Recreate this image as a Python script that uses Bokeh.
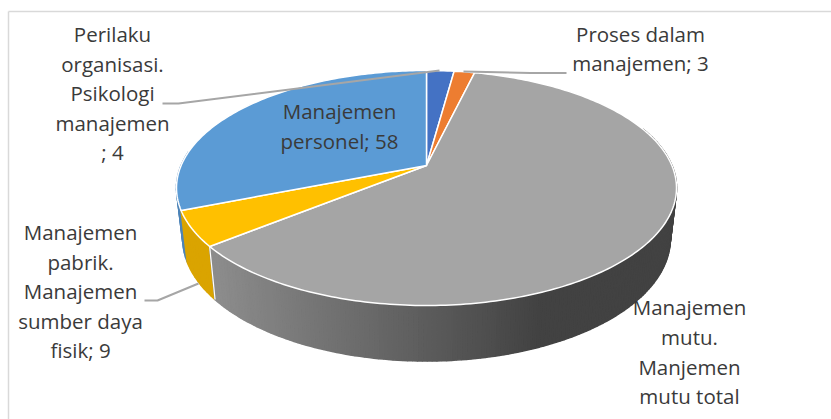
import math
from bokeh.plotting import figure
from bokeh.models import Range1d
from bokeh.core.properties import value
from bokeh.embed import file_html
from bokeh.resources import INLINE

# ---- data ----
categories = ["Perilaku organisasi. Psikologi manajemen", "Proses dalam manajemen",
              "Manajemen mutu. Manjemen mutu total (TQM)",
              "Manajemen pabrik. Manajemen sumber daya fisik", "Manajemen personel"]
values = [4, 3, 113, 9, 58]
top_colors = ["#4472C4", "#ED7D31", "#A5A5A5", "#FFC000", "#5B9BD5"]
label_lines = [
    ["Perilaku", "organisasi.", "Psikologi", "manajemen", "; 4"],
    ["Proses dalam", "manajemen; 3"],
    ["Manajemen", "mutu.", "Manjemen", "mutu total"],
    ["Manajemen", "pabrik.", "Manajemen", "sumber daya", "fisik; 9"],
    ["Manajemen", "personel; 58"],
]
label_x = [112, 640, 689, 80, 339]
label_y = [[33.5, 63, 92.5, 122, 151], [33.5, 62.5], [306.5, 336.5, 366, 395.5],
           [231.5, 261, 290.5, 320, 349.5], [110.5, 140.5]]
cut_line = "(TQM); 113"
leaders = [
    ([162, 178, 439], [103, 103, 70]),
    ([566, 530, 463], [72.5, 72.5, 71]),
    ([144, 157, 198], [300, 300, 283]),
]

# ---- layout of the tilted disc, in page pixels ----
W, H = 831, 419
CX, CY = 426, 165
RX = 250
UP, DOWN = 95, 140
K = (DOWN - UP) / (DOWN + UP)
A = RX * math.sqrt(1 - K * K)
B = UP * (1 + K)
LOW_XSCALE = 0.975
LOW_B = 117.8
CY2 = 214.8


def top_rim(theta):
    u, v = math.sin(theta), math.cos(theta)
    d = 1 + K * v
    return CX + A * u / d, CY - B * v / d


def low_rim(theta):
    u, v = math.sin(theta), math.cos(theta)
    d = 1 + K * v
    return CX + LOW_XSCALE * A * u / d, CY2 - LOW_B * v / d


total = sum(values)
edges = [0.0]
for val in values:
    edges.append(edges[-1] + val / total * 2 * math.pi)


def gray_wall(x):
    t = min(1, max(0, (x - 214) / (540 - 214)))
    g = round(0x8C + (0x42 - 0x8C) * t)
    return f"#{g:02x}{g:02x}{g:02x}"


p = figure(width=W, height=H, x_range=Range1d(0, W), y_range=Range1d(H, 0),
           toolbar_location=None, output_backend="svg", min_border=0,
           background_fill_color="white", border_fill_color="white", outline_line_color=None)
p.xaxis.visible = False
p.yaxis.visible = False
p.grid.visible = False

# chart box (top and left edges are inside the picture)
p.multi_line(xs=[[8, 8], [8, W]], ys=[[H, 11], [11, 11]], line_color="#D9D9D9", line_width=1.5)


def wall(a0, a1, color_fn, n):
    xs, ys, cs = [], [], []
    for i in range(n):
        t0 = a0 + (a1 - a0) * i / n
        t1 = a0 + (a1 - a0) * (i + 1) / n
        x0, y0 = top_rim(t0)
        x1, y1 = top_rim(t1)
        x2, y2 = low_rim(t1)
        x3, y3 = low_rim(t0)
        xs.append([x0, x1, x2, x3])
        ys.append([y0, y1, y2, y3])
        cs.append(color_fn((x0 + x1) / 2))
    p.patches(xs, ys, fill_color=cs, line_color=cs, line_width=1.6)


wall(edges[4], edges[4] + 0.5, lambda x: "#4D84B8", 14)
wall(edges[3], edges[4], lambda x: "#DAA400", 10)
wall(math.radians(70), edges[3], gray_wall, 170)

# white seam on the front edge between the walls
sx0, sy0 = top_rim(edges[3])
sx1, sy1 = low_rim(edges[3])
p.line([sx0, sx1], [sy0, sy1], line_color="white", line_width=1.2)

# top faces
for i, col in enumerate(top_colors):
    n = max(6, int((edges[i + 1] - edges[i]) * 60))
    pts = [top_rim(edges[i] + (edges[i + 1] - edges[i]) * j / n) for j in range(n + 1)]
    xs = [CX] + [q[0] for q in pts]
    ys = [CY] + [q[1] for q in pts]
    p.patch(xs, ys, fill_color=col, line_color="white", line_width=1.5, line_join="round")

# leader lines
for lx, ly in leaders:
    p.line(lx, ly, line_color="#A6A6A6", line_width=2)

# labels
TEXT = dict(text_font=value("Open Sans"), text_font_size="20.5px", text_color="#3A3A3A", text_align="center")
for lines, x, ys in zip(label_lines, label_x, label_y):
    p.text([x] * len(lines), ys, text=lines, text_baseline="middle", **TEXT)

# last line of the mutu label runs off the bottom of the picture, as in the reference
p.text([label_x[2]], [418], text=[cut_line], text_baseline="alphabetic", y_offset=13, **TEXT)

html = file_html(p, INLINE)
html = html.replace("<head>", "<head><style>html,body{margin:0;padding:0;overflow:hidden}</style>", 1)
open("out.html", "w").write(html)
